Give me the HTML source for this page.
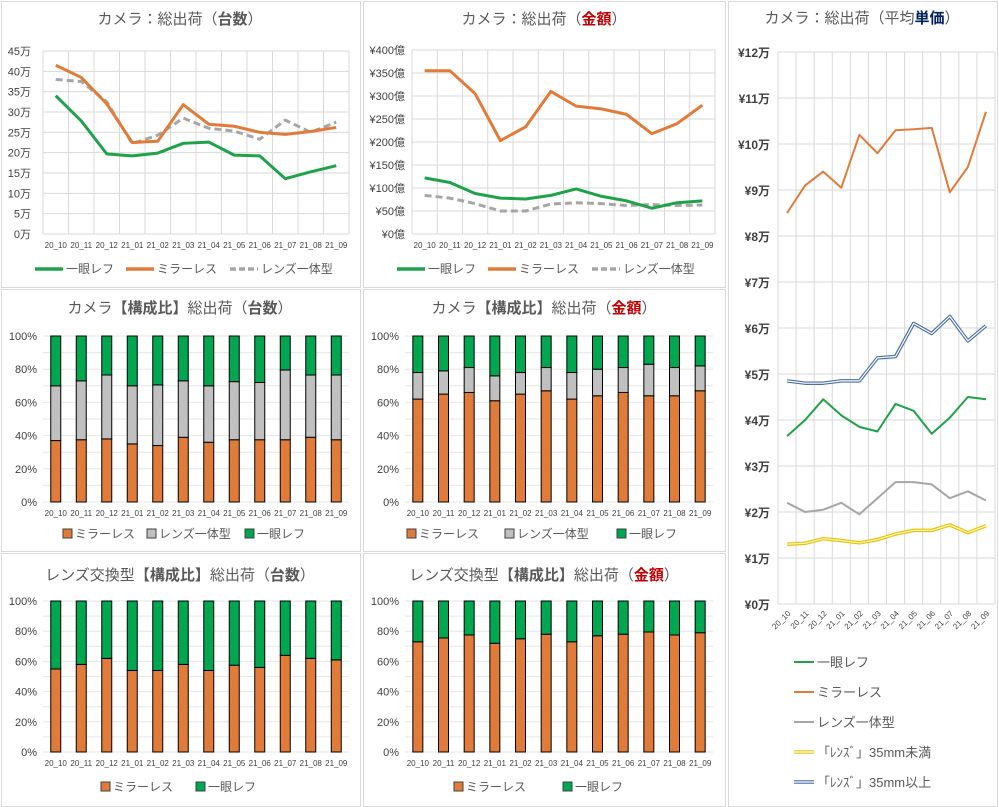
<!DOCTYPE html><html><head><meta charset="utf-8"><style>body{margin:0;background:#fff}svg{display:block;font-family:"Liberation Sans","Noto Sans CJK JP",sans-serif}</style></head><body>
<svg id="s" width="999" height="807" xmlns="http://www.w3.org/2000/svg"></svg>
<script>
const S=document.getElementById('s');let h='';
const cats=['20_10','20_11','20_12','21_01','21_02','21_03','21_04','21_05','21_06','21_07','21_08','21_09'];
const G='#1fa24a',O='#e07b39',Gr='#a6a6a6';
function box(x,y,w,hh){h+=`<rect x="${x+.5}" y="${y+.5}" width="${w}" height="${hh}" fill="#fff" stroke="#d9d9d9"/>`;}
function title(cx,y,parts){h+=`<text x="${cx}" y="${y}" text-anchor="middle" font-size="15" fill="#595959">${parts}</text>`;}
function line(xs,ys,c,w,dash){h+=`<polyline fill="none" stroke="${c}" stroke-width="${w}" ${dash?'stroke-dasharray="7 4"':''} stroke-linejoin="round" points="${xs.map((x,i)=>x+','+ys[i]).join(' ')}"/>`;}
function lineChart(L,R,top,bot,n,labels,sers,lblx){
 const cw=(R-L)/12;for(let i=0;i<=n;i++){const y=bot-(bot-top)*i/n;h+=`<line x1="${L}" x2="${R}" y1="${y}" y2="${y}" stroke="#d9d9d9"/>`;h+=`<text x="${lblx}" y="${y+4}" text-anchor="end" font-size="11" fill="#404040">${labels[i]}</text>`;}
 for(let i=0;i<=12;i++){const x=L+cw*i;h+=`<line x1="${x}" x2="${x}" y1="${top}" y2="${bot}" stroke="#d9d9d9"/>`;}
 cats.forEach((c,i)=>h+=`<text x="${L+cw*(i+.5)}" y="${bot+14}" text-anchor="middle" font-size="8" fill="#404040">${c}</text>`);
 const xs=cats.map((c,i)=>L+cw*(i+.5));
 sers.forEach(s=>line(xs,s[0].map(v=>bot-(bot-top)*v/s[4]),s[1],s[2],s[3]));
}
function barChart(L,R,top,bot,segs,lblx,bw){
 const cw=(R-L)/12;
 for(let i=0;i<=10;i++){const y=bot-(bot-top)*i/10;h+=`<line x1="${L}" x2="${R}" y1="${y}" y2="${y}" stroke="#e6e6e6"/>`;if(i%2==0)h+=`<text x="${lblx}" y="${y+4}" text-anchor="end" font-size="11" fill="#404040">${i*10}%</text>`;}
 cats.forEach((c,i)=>{const cx=L+cw*(i+.5);h+=`<text x="${cx}" y="${bot+14}" text-anchor="middle" font-size="8" fill="#404040">${c}</text>`;
  let prev=0;segs.forEach(sg=>{const v=sg[0]?sg[0][i]:100;const y1=bot-(bot-top)*v/100,y0=bot-(bot-top)*prev/100;h+=`<rect x="${cx-bw/2}" y="${y1}" width="${bw}" height="${y0-y1}" fill="${sg[1]}" stroke="#000" stroke-width="1"/>`;prev=v;});});
}
function legSq(x,y,c,t){h+=`<rect x="${x}" y="${y-9}" width="9" height="9" fill="${c}" stroke="#404040"/><text x="${x+12}" y="${y}" font-size="12" fill="#595959">${t}</text>`;}
function legLn(x,y,c,t,d){h+=`<line x1="${x}" x2="${x+28}" y1="${y-4}" y2="${y-4}" stroke="${c}" stroke-width="3.5" ${d?'stroke-dasharray="6 3"':''}/><text x="${x+31}" y="${y}" font-size="12" fill="#595959">${t}</text>`;}
box(1,1,359,286);box(363,1,362,286);box(728,1,269,805);box(1,289,359,262);box(363,289,362,262);box(1,553,359,253);box(363,553,362,253);
// chart1
title(180,24,'カメラ：総出荷（<tspan font-weight="bold">台数</tspan>）');
lineChart(43,349,51,234,9,[0,5,10,15,20,25,30,35,40,45].map(v=>v+'万'),[
[[38,37.5,32.5,22.2,24.3,28.5,26,25.3,23.3,28,25,27.5],Gr,3,1,45],
[[41.5,38.5,32,22.5,22.8,31.8,27,26.5,25,24.5,25.2,26.2],O,3,0,45],
[[34,27.8,19.7,19.2,19.9,22.3,22.6,19.4,19.2,13.6,15.3,16.8],G,3,0,45]],31);
legLn(35,273,G,'一眼レフ');legLn(126,273,O,'ミラーレス');legLn(230,273,Gr,'レンズ一体型',1);
// chart2
title(544,24,'カメラ：総出荷（<tspan font-weight="bold" fill="#c00000">金額</tspan>）');
lineChart(412,715,50,234,8,[0,50,100,150,200,250,300,350,400].map(v=>'¥'+v+'億'),[
[[84,78,66,50,50,65,68,66,62,64,62,63],Gr,3,1,400],
[[355,355,305,203,233,310,278,272,260,218,240,280],O,3,0,400],
[[122,112,88,78,76,84,98,82,72,56,68,72],G,3,0,400]],405);
legLn(397,273,G,'一眼レフ');legLn(488,273,O,'ミラーレス');legLn(592,273,Gr,'レンズ一体型',1);
// chart3
title(862,23,'カメラ：総出荷（平均<tspan font-weight="bold" fill="#002060">単価</tspan>）');
{const L=778,R=995,top=52,bot=604,cw=(R-L)/12;
for(let i=0;i<=12;i++){const y=bot-(bot-top)*i/12;h+=`<line x1="${L}" x2="${R}" y1="${y}" y2="${y}" stroke="#d9d9d9"/><text x="${L-8}" y="${y+5}" text-anchor="end" font-size="12" font-weight="bold" fill="#404040">¥${i}万</text>`;}
for(let i=0;i<=12;i++){const x=L+cw*i;h+=`<line x1="${x}" x2="${x}" y1="${top}" y2="${bot}" stroke="#d9d9d9"/>`;}
const xs=cats.map((c,i)=>L+cw*(i+.5));
cats.forEach((c,i)=>h+=`<text transform="translate(${xs[i]+4},${bot+10}) rotate(-45)" text-anchor="end" font-size="8" fill="#404040">${c}</text>`);
const Y=a=>a.map(v=>bot-(bot-top)*v/12);
line(xs,Y([2.2,2.0,2.05,2.2,1.95,2.3,2.65,2.65,2.6,2.3,2.45,2.25]),Gr,2);
line(xs,Y([1.3,1.32,1.42,1.38,1.33,1.4,1.52,1.6,1.6,1.72,1.55,1.7]),'#e6c200',3.5);line(xs,Y([1.3,1.32,1.42,1.38,1.33,1.4,1.52,1.6,1.6,1.72,1.55,1.7]),'#fff8c0',1.2);
line(xs,Y([4.85,4.8,4.8,4.85,4.85,5.35,5.38,6.1,5.88,6.25,5.72,6.05]),'#4a6fa5',3.5);line(xs,Y([4.85,4.8,4.8,4.85,4.85,5.35,5.38,6.1,5.88,6.25,5.72,6.05]),'#fff',1.2);
line(xs,Y([3.65,4.0,4.45,4.1,3.85,3.75,4.35,4.2,3.7,4.05,4.5,4.45]),G,2);
line(xs,Y([8.5,9.1,9.4,9.05,10.2,9.8,10.3,10.32,10.35,8.95,9.5,10.7]),O,2);
const lg=[[G,'一眼レフ'],[O,'ミラーレス'],[Gr,'レンズ一体型'],['#e6c200','「ﾚﾝｽﾞ」35mm未満'],['#4a6fa5','「ﾚﾝｽﾞ」35mm以上']];
lg.forEach((l,i)=>{const y=667+i*30;h+=`<line x1="794" x2="814" y1="${y-5}" y2="${y-5}" stroke="${l[0]}" stroke-width="${i>2?3.5:2}"/>`+(i>2?`<line x1="794" x2="814" y1="${y-5}" y2="${y-5}" stroke="#fff" stroke-width="1.2"/>`:'')+`<text x="817" y="${y}" font-size="13" fill="#595959">${l[1]}</text>`;});}
// chart4
title(180,313,'カメラ<tspan font-weight="bold">【構成比】</tspan>総出荷（<tspan font-weight="bold">台数</tspan>）');
barChart(43,349,336,502,[[[37,37.5,38,35,34,39,36,37.5,37.5,37.5,39,37.5],O],[[70,73,76.5,70,70.5,73,70,72.5,72,79.5,76.5,76.5],'#c0c0c0'],[null,'#00a650']],37,10);
legSq(63,538,O,'ミラーレス');legSq(147,538,'#c0c0c0','レンズ一体型');legSq(245,538,'#00a650','一眼レフ');
// chart5
title(544,313,'カメラ<tspan font-weight="bold">【構成比】</tspan>総出荷（<tspan font-weight="bold" fill="#c00000">金額</tspan>）');
barChart(405,713,336,502,[[[62,65,66,61,65,67,62,64,66,64,64,67],O],[[78,79,81,76,78,81,78,80,81,83,81,82],'#c0c0c0'],[null,'#00a650']],399,10);
legSq(407,538,O,'ミラーレス');legSq(505,538,'#c0c0c0','レンズ一体型');legSq(617,538,'#00a650','一眼レフ');
// chart6
title(180,580,'レンズ交換型<tspan font-weight="bold">【構成比】</tspan>総出荷（<tspan font-weight="bold">台数</tspan>）');
barChart(43,349,601,752,[[[55,58,62,54,54,58,54,57.5,56,64,62,61],O],[null,'#00a650']],37,10);
legSq(101,791,O,'ミラーレス');legSq(196,791,'#00a650','一眼レフ');
// chart7
title(544,580,'レンズ交換型<tspan font-weight="bold">【構成比】</tspan>総出荷（<tspan font-weight="bold" fill="#c00000">金額</tspan>）');
barChart(405,713,601,752,[[[73,75.5,77.5,72,75,78,73,77,78,79.5,77.5,79],O],[null,'#00a650']],399,10);
legSq(454,791,O,'ミラーレス');legSq(563,791,'#00a650','一眼レフ');
S.innerHTML=h;
</script></body></html>
